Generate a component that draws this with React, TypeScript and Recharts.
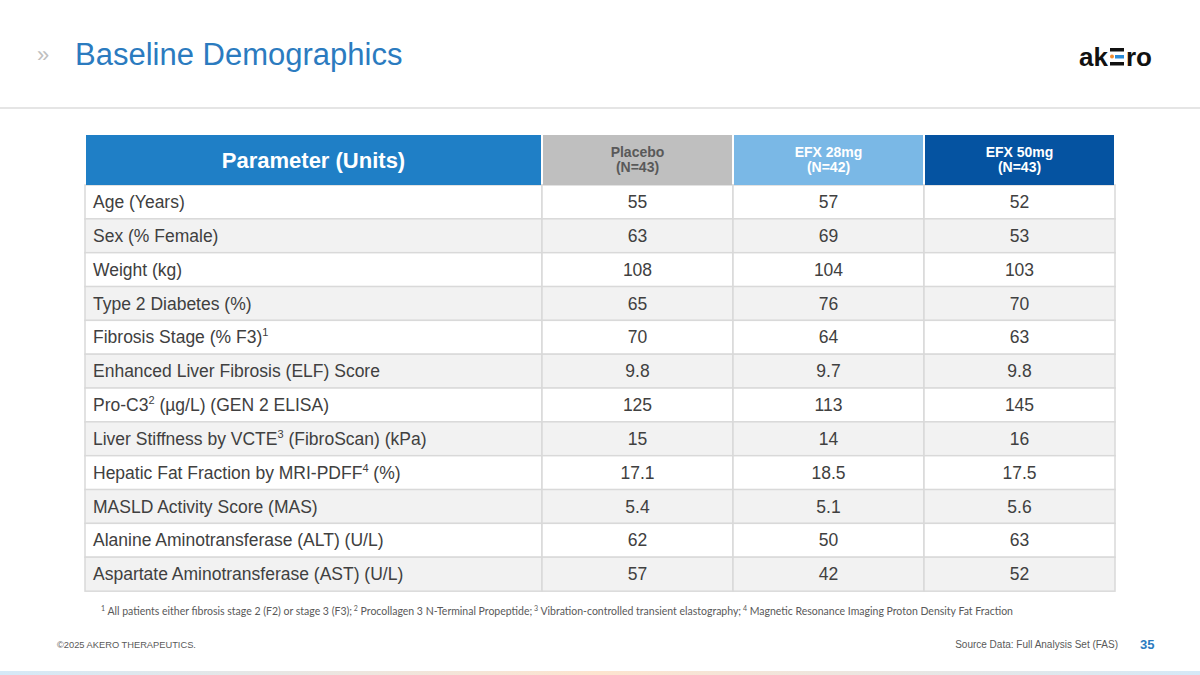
import { BarChart, Bar, XAxis, YAxis } from "recharts"

// table content
const PARAMS = [
  "Age (Years)",
  "Sex (% Female)",
  "Weight (kg)",
  "Type 2 Diabetes (%)",
  "Fibrosis Stage (% F3)^1",
  "Enhanced Liver Fibrosis (ELF) Score",
  "Pro-C3^2 (µg/L) (GEN 2 ELISA)",
  "Liver Stiffness by VCTE^3 (FibroScan) (kPa)",
  "Hepatic Fat Fraction by MRI-PDFF^4 (%)",
  "MASLD Activity Score (MAS)",
  "Alanine Aminotransferase (ALT) (U/L)",
  "Aspartate Aminotransferase (AST) (U/L)",
]
const PLACEBO = [55, 63, 108, 65, 70, 9.8, 125, 15, 17.1, 5.4, 62, 57]
const EFX_28 = [57, 69, 104, 76, 64, 9.7, 113, 14, 18.5, 5.1, 50, 42]
const EFX_50 = [52, 53, 103, 70, 63, 9.8, 145, 16, 17.5, 5.6, 63, 52]

const HEADER_TITLES = ["Parameter (Units)", "Placebo", "EFX 28mg", "EFX 50mg"]
const HEADER_N = ["", "(N=43)", "(N=42)", "(N=43)"]

const FOOTNOTES = [
  "All patients either fibrosis stage 2 (F2) or stage 3 (F3);",
  "Procollagen 3 N-Terminal Propeptide;",
  "Vibration-controlled transient elastography;",
  "Magnetic Resonance Imaging Proton Density Fat Fraction",
]

// styling
const KEYS = ["param", "placebo", "efx28", "efx50"]
const COL_WIDTHS = [457, 191, 191, 191]
const HEADER_FILL = ["#1f7fc6", "#bfbfbf", "#7ab8e6", "#0553a1"]
const HEADER_INK = ["#ffffff", "#595959", "#ffffff", "#ffffff"]
const FONT = "'Liberation Sans', Arial, sans-serif"
const TEXT = "#404040"
const GRID = "#d9d9d9"
const MARGIN = { top: 135, right: 85, bottom: 84, left: 85 }
const HEADER_H = 50

const TOTAL = COL_WIDTHS.reduce((a, b) => a + b, 0)
const COL_START = COL_WIDTHS.map((_, i) => COL_WIDTHS.slice(0, i).reduce((a, b) => a + b, 0))
const COL_CENTER = COL_START.map((s, i) => s + COL_WIDTHS[i] / 2)

const rows = PARAMS.map((param, i) => ({
  row: i,
  param,
  placebo: PLACEBO[i],
  efx28: EFX_28[i],
  efx50: EFX_50[i],
}))

function renderLabel(label: string, x: number, y: number, anchor: "start" | "middle") {
  const parts = label.split(/\^(\d)/)
  return (
    <text x={x} y={y} textAnchor={anchor} fontFamily={FONT} fontSize={17.5} fill={TEXT}>
      {parts.map((p, i) =>
        i % 2 === 1 ? (
          <tspan key={i} fontSize={11} dy={-7}>
            {p}
          </tspan>
        ) : (
          <tspan key={i} dy={i > 0 ? 7 : 0}>
            {p}
          </tspan>
        ),
      )}
    </text>
  )
}

const makeCell = (col: number) => (props: any) => {
  const { x, y, width, height, payload } = props
  const fill = payload.row % 2 === 0 ? "#ffffff" : "#f2f2f2"
  const value = String(payload[KEYS[col]])
  const cy = y + height / 2 + 6
  return (
    <g>
      <rect x={x} y={y} width={width} height={height} fill={fill} stroke={GRID} strokeWidth={1.5} />
      {col === 0 ? renderLabel(value, x + 8, cy, "start") : renderLabel(value, x + width / 2, cy, "middle")}
    </g>
  )
}

function HeaderTick(props: any) {
  const { x, payload } = props
  const i = COL_CENTER.indexOf(payload.value)
  if (i < 0) return null
  const w = COL_WIDTHS[i]
  const top = MARGIN.top
  return (
    <g>
      <rect x={x - w / 2 + 1} y={top} width={w - 2} height={HEADER_H} fill={HEADER_FILL[i]} />
      {i === 0 ? (
        <text x={x} y={top + 33} textAnchor="middle" fontFamily={FONT} fontWeight="bold" fontSize={22} fill={HEADER_INK[i]}>
          {HEADER_TITLES[i]}
        </text>
      ) : (
        <text textAnchor="middle" fontFamily={FONT} fontWeight="bold" fontSize={14} fill={HEADER_INK[i]}>
          <tspan x={x} y={top + 22}>
            {HEADER_TITLES[i]}
          </tspan>
          <tspan x={x} y={top + 37}>
            {HEADER_N[i]}
          </tspan>
        </text>
      )}
    </g>
  )
}

function Overlay() {
  return (
    <svg width={1200} height={675} style={{ position: "absolute", left: 0, top: 0, pointerEvents: "none" }}>
      <defs>
        <linearGradient id="footBar" x1="0" x2="1" y1="0" y2="0">
          <stop offset="0" stopColor="#d5e9f7" />
          <stop offset="0.5" stopColor="#fde4cf" />
          <stop offset="1" stopColor="#d5e9f7" />
        </linearGradient>
      </defs>
      <text x={37} y={62} fontFamily={FONT} fontSize={22} fill="#bfbfbf">
        »
      </text>
      <text x={75} y={65} fontFamily={FONT} fontSize={31} fill="#2b7bbf">
        Baseline Demographics
      </text>
      {/* logo */}
      <text x={1079} y={66} fontFamily={FONT} fontWeight="bold" fontSize={26} fill="#111111">
        ak
      </text>
      <rect x={1110} y={48} width={14} height={3.5} fill="#111111" />
      <circle cx={1112} cy={56.5} r={2} fill="#f08a2c" />
      <rect x={1115} y={55} width={9} height={3.5} fill="#2a8ad6" />
      <rect x={1110} y={62} width={14} height={3.5} fill="#111111" />
      <text x={1126} y={66} fontFamily={FONT} fontWeight="bold" fontSize={26} fill="#111111">
        ro
      </text>
      <line x1={0} x2={1200} y1={108} y2={108} stroke="#dcdcdc" strokeWidth={1.5} />
      <text x={557} y={615} textAnchor="middle" fontFamily="Lato, 'Open Sans', sans-serif" fontSize={10.5} fill="#595959">
        {FOOTNOTES.map((f, i) => (
          <tspan key={i}>
            <tspan fontSize={7} baselineShift="super">
              {(i > 0 ? " " : "") + (i + 1)}
            </tspan>
            {" " + f}
          </tspan>
        ))}
      </text>
      <text x={57} y={648} fontFamily={FONT} fontSize={9.3} fill="#595959">
        ©2025 AKERO THERAPEUTICS.
      </text>
      <text x={1118} y={648} textAnchor="end" fontFamily={FONT} fontSize={10} fill="#595959">
        Source Data: Full Analysis Set (FAS)
      </text>
      <text x={1140} y={649} fontFamily={FONT} fontWeight="bold" fontSize={13} fill="#2b7bbf">
        35
      </text>
      <rect x={0} y={671} width={1200} height={4} fill="url(#footBar)" />
    </svg>
  )
}

export default function App() {
  return (
    <div style={{ position: "absolute", left: 0, top: 0, width: 1200, height: 675, background: "#ffffff" }}>
      <BarChart
        width={1200}
        height={675}
        data={rows}
        layout="vertical"
        margin={MARGIN}
        barCategoryGap={0}
        barGap={0}
      >
        <XAxis
          type="number"
          orientation="top"
          domain={[0, TOTAL]}
          ticks={COL_CENTER}
          interval={0}
          height={HEADER_H}
          axisLine={false}
          tickLine={false}
          tick={<HeaderTick />}
        />
        <YAxis type="category" dataKey="param" hide />
        {KEYS.map((k, i) => (
          <Bar
            key={k}
            dataKey={() => COL_WIDTHS[i]}
            stackId="row"
            isAnimationActive={false}
            shape={makeCell(i)}
          />
        ))}
      </BarChart>
      <Overlay />
    </div>
  )
}
